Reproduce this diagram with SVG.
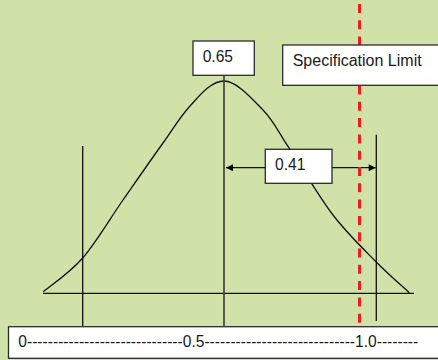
<svg xmlns="http://www.w3.org/2000/svg" width="438" height="360" viewBox="0 0 438 360">
<defs>
<style>
.bg{fill:#d0e2a8}
.box{fill:#ffffff;stroke:#2b2b2b;stroke-width:1.3}
.txt{font-family:"Liberation Sans",Arial,sans-serif;font-size:15.6px;fill:#1a1a1a}
.ln{stroke:#111;stroke-width:1.3;fill:none}
.vc{stroke:#3a3a3a;stroke-width:1.6;fill:none}
.spec{stroke:#f01c1c;stroke-width:3;stroke-dasharray:9 7.3;fill:none}
</style>
<marker id="ah" viewBox="0 0 10 10" refX="10" refY="5" markerWidth="8" markerHeight="7" markerUnits="userSpaceOnUse" orient="auto-start-reverse">
<path d="M0,0 L10,5 L0,10 z" fill="#000"/>
</marker>
</defs>
<rect class="bg" x="0" y="0" width="438" height="360"/>
<g id="connectors">
<path id="curve" class="ln" d="M43.3,291.7 C49.9,286.1 69.4,273.3 82.7,258 C96,242.7 109.6,219.2 123,200 C136.4,180.8 151.5,159 163,143 C174,127.5 180,117 190,106 C200,95 211.3,81 224,81 C236.7,81 252.1,98.8 263,110 C273.9,121.2 277.6,130.8 289.3,148.3 C301,165.8 318.6,196.1 333,215 C347.5,233.9 363.3,248.8 376,261.7 C388.7,274.7 403.8,287.5 409.3,292.7"/>
<line class="ln" x1="43" y1="293.3" x2="414" y2="293.3"/>
<line class="vc" x1="224" y1="75" x2="224" y2="327"/>
<line class="ln" x1="82.7" y1="146" x2="82.7" y2="327"/>
<line class="ln" x1="376.3" y1="134.7" x2="376.3" y2="321"/>
<line class="ln" x1="226" y1="167.7" x2="375.7" y2="167.7" marker-start="url(#ah)" marker-end="url(#ah)"/>
<line class="spec" x1="359.5" y1="4" x2="359.5" y2="324.5"/>
</g>
<g id="mean">
<rect class="box" x="193" y="41" width="61.3" height="34.3"/>
<text class="txt" x="202.7" y="62">0.65</text>
</g>
<g id="spec-limit">
<rect class="box" x="282.7" y="45" width="170" height="40.3"/>
<text class="txt" x="292.7" y="66" style="font-size:16px">Specification Limit</text>
</g>
<g id="distance">
<rect class="box" x="265.3" y="149.3" width="66.7" height="34"/>
<text class="txt" x="275" y="170">0.41</text>
</g>
<g id="axis">
<rect class="box" x="8.5" y="326.7" width="440" height="31.6"/>
<text class="txt" x="18.3" y="347">0------------------------------0.5-----------------------------1.0--------</text>
</g>
</svg>
